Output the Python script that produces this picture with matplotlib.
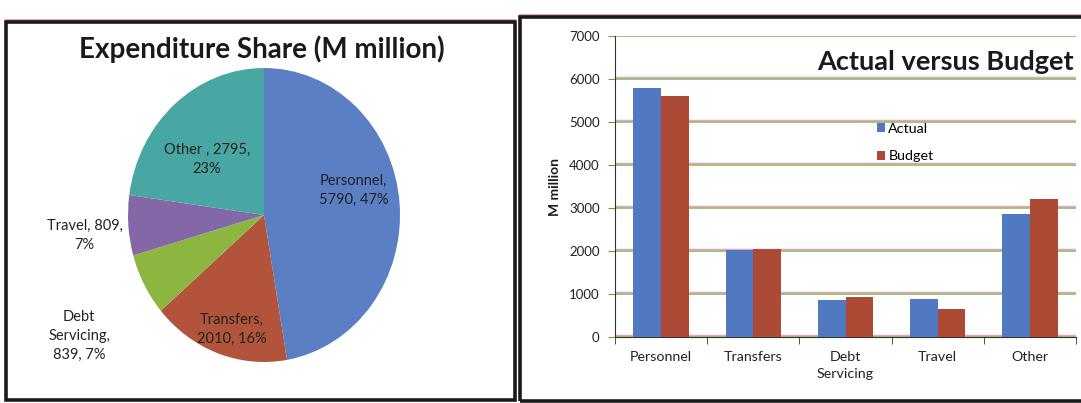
import numpy as np
import matplotlib.pyplot as plt
import matplotlib.patheffects as pe
from matplotlib.patches import Rectangle

plt.rcParams['font.family'] = ['Lato', 'DejaVu Sans']

# expenditure shares (M million)
pie_labels = ["Personnel", "Transfers", "Debt Servicing", "Travel", "Other "]
pie_values = [5790, 2010, 839, 809, 2795]
pie_colors = ["#5a7fc5", "#b2543b", "#8cb640", "#8467a6", "#48a7a2"]

# actual versus budget
categories = ["Personnel", "Transfers", "Debt\nServicing", "Travel", "Other"]
actual = [5790, 2030, 870, 880, 2850]
budget = [5600, 2040, 920, 640, 3220]
bar_colors = ["#5079c2", "#ad4a36"]

fig = plt.figure(figsize=(10.81, 4.03), dpi=100)
W, H = 1081, 403


def box(x0, y0, x1, y1):
    # pixel box -> figure fraction rect
    return [x0 / W, 1 - y1 / H, (x1 - x0) / W, (y1 - y0) / H]


# panel frames
for x0, y0, x1, y1 in [(6, 22, 515, 400), (520, 17, 1090, 401)]:
    fig.patches.append(Rectangle((x0 / W, 1 - y1 / H), (x1 - x0) / W, (y1 - y0) / H,
                                 transform=fig.transFigure, fill=False,
                                 edgecolor="#1a1a1a", linewidth=2.6, zorder=5))
    fig.add_artist(plt.Line2D([x0 / W, x1 / W], [1 - (y0 - 2) / H] * 2,
                              transform=fig.transFigure, color="#e58aa8", lw=1.2))

# ---- pie ----
fig.text(262 / W, 1 - 49 / H, "Expenditure Share (M million)", ha="center", va="center",
         fontsize=20, fontweight="bold", color="#1a1a1a")

axp = fig.add_axes(box(128, 68, 400, 362))
wedges, _ = axp.pie(pie_values, colors=pie_colors, startangle=90, counterclock=False,
                    wedgeprops=dict(linewidth=0))
axp.set_aspect("auto")
axp.set_xlim(-1, 1)
axp.set_ylim(-1, 1)

total = sum(pie_values)
label_text = {
    "Personnel": "Personnel,\n{v}, {p}%",
    "Transfers": "Transfers,\n{v}, {p}%",
    "Debt Servicing": "Debt\nServicing,\n{v}, {p}%",
    "Travel": "Travel, {v},\n{p}%",
    "Other ": "Other , {v},\n{p}%",
}
label_pos = [(0.66, 0.17), (-0.24, -0.78), (-1.36, -0.82), (-1.32, -0.14), (-0.42, 0.38)]
for name, v, (lx, ly) in zip(pie_labels, pie_values, label_pos):
    pct = round(100 * v / total)
    axp.text(lx, ly, label_text[name].format(v=v, p=pct), ha="center", va="center",
             fontsize=10.5, color="#222222", linespacing=1.45, clip_on=False)

# ---- bars ----
ax = fig.add_axes(box(615, 36, 1076, 337))
x = np.arange(len(categories))
w = 0.3
ax.bar(x - w / 2, actual, w, color=bar_colors[0], label="Actual", zorder=3)
ax.bar(x + w / 2, budget, w, color=bar_colors[1], label="Budget", zorder=3)

ax.set_xlim(-0.5, len(categories) - 0.5)
ax.set_ylim(0, 7000)
ax.set_yticks(np.arange(0, 7001, 1000))
ax.set_xticks(x)
ax.set_xticklabels(categories, fontsize=10.3, color="#222222", linespacing=1.5)
ax.tick_params(axis="x", length=0, pad=10)
ax.tick_params(axis="y", labelsize=9.5, labelcolor="#222222", length=5, pad=6,
               color="#6f9a4a")
ax.set_xticks(np.arange(-0.5, len(categories)), minor=True)
ax.tick_params(axis="x", which="minor", length=5, color="#333333")

# green rules with a faint pink fringe just above
ax.yaxis.grid(True, color="#7fa94a", linewidth=1.0, zorder=1,
              path_effects=[pe.SimpleLineShadow(offset=(0, 1.1), shadow_color="#e07ca2",
                                                alpha=0.7, rho=1), pe.Normal()])
for gl in ax.get_ygridlines():
    gl.set_snap(False)
for s in ["top", "right"]:
    ax.spines[s].set_visible(False)
ax.spines["left"].set_color("#333333")
ax.spines["bottom"].set_color("#333333")
ax.spines["left"].set_linewidth(0.8)
ax.spines["bottom"].set_linewidth(0.8)

ax.set_ylabel("M million", fontsize=10, fontweight="bold", color="#1a1a1a", labelpad=6)
ax.text(0.995, 0.915, "Actual versus Budget", transform=ax.transAxes, ha="right",
        va="center", fontsize=19.5, fontweight="bold", color="#1a1a1a")
ax.legend(loc="upper left", bbox_to_anchor=(0.54, 0.755), frameon=False, fontsize=10.3,
          handlelength=0.6, handleheight=0.6, handletextpad=0.2, labelspacing=1.1)

fig.savefig("out.png", dpi=100, facecolor="white")
